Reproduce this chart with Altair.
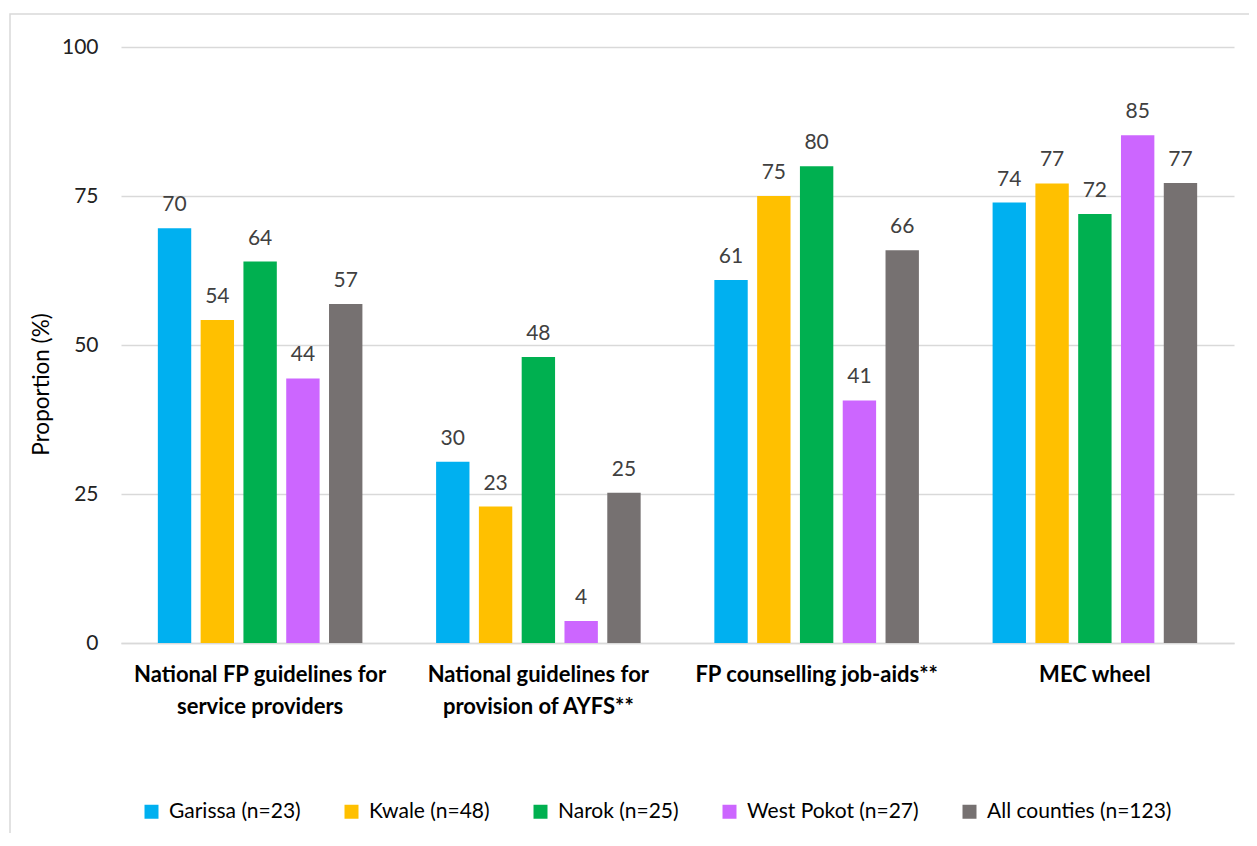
import altair as alt
import pandas as pd

categories = [
    "National FP guidelines for|service providers",
    "National guidelines for|provision of AYFS**",
    "FP counselling job-aids**",
    "MEC wheel",
]
counties = ["Garissa (n=23)", "Kwale (n=48)", "Narok (n=25)", "West Pokot (n=27)", "All counties (n=123)"]
colors = ["#00B0F0", "#FFC000", "#00B050", "#CC66FF", "#767171"]

garissa = [69.6, 30.4, 60.9, 73.9]
kwale = [54.2, 22.9, 75.0, 77.1]
narok = [64.0, 48.0, 80.0, 72.0]
west_pokot = [44.4, 3.7, 40.7, 85.2]
all_counties = [56.9, 25.2, 65.9, 77.2]

series = [garissa, kwale, narok, west_pokot, all_counties]
rows = []
for county, vals in zip(counties, series):
    for cat, v in zip(categories, vals):
        rows.append({"category": cat, "county": county, "value": v})
df = pd.DataFrame(rows)

FONT = "Lato"

base = alt.Chart(df).encode(
    x=alt.X(
        "category:N",
        sort=categories,
        scale=alt.Scale(paddingInner=0.231, paddingOuter=0.1155),
        axis=alt.Axis(
            title=None,
            labelExpr="split(datum.label, '|')",
            labelAngle=0,
            labelFont=FONT,
            labelFontSize=22,
            labelFontWeight="bold",
            labelColor="#000000",
            labelPadding=31,
            labelLineHeight=32,
            labelBaseline="middle",
            labelLimit=500,
            ticks=False,
            domainColor="#D9D9D9",
            domainWidth=1.5,
            grid=False,
        ),
    ),
    xOffset=alt.XOffset(
        "county:N", sort=counties, scale=alt.Scale(paddingInner=0.22, paddingOuter=0.11)
    ),
    y=alt.Y(
        "value:Q",
        scale=alt.Scale(domain=[0, 100]),
        axis=alt.Axis(
            values=[0, 25, 50, 75, 100],
            title="Proportion (%)",
            titleFont=FONT,
            titleFontSize=22.5,
            titleFontWeight="normal",
            titleColor="#000000",
            titleAngle=270,
            titleX=-80,
            titleY=337,
            titleAlign="center",
            titleBaseline="middle",
            labelFont=FONT,
            labelFontSize=21,
            labelColor="#222222",
            labelPadding=23,
            ticks=False,
            domain=False,
            grid=True,
            gridColor="#D9D9D9",
            gridWidth=1.5,
        ),
    ),
)

bars = base.mark_bar().encode(
    color=alt.Color(
        "county:N",
        sort=counties,
        scale=alt.Scale(domain=counties, range=colors),
        legend=alt.Legend(
            title=None,
            orient="none",
            legendX=20,
            legendY=754,
            direction="horizontal",
            columns=5,
            symbolType="square",
            symbolSize=196,
            symbolStrokeWidth=0,
            labelFont=FONT,
            labelFontSize=21,
            labelColor="#000000",
            labelLimit=400,
            columnPadding=40,
            labelOffset=7,
        ),
    )
)

labels = base.mark_text(
    baseline="alphabetic", dy=-17, font=FONT, fontSize=21, color="#404040"
).encode(text=alt.Text("value:Q", format=".0f"))

frame = alt.Chart(pd.DataFrame({"f": [0]})).mark_rect(
    fill=None, stroke="#D9D9D9", strokeWidth=1.5
).encode(
    x=alt.value(-111), x2=alt.value(1200), y=alt.value(-33), y2=alt.value(1000)
)

chart = (
    alt.layer(frame, bars, labels)
    .properties(
        width=1113,
        height=596,
        padding={"left": 113, "top": 39, "right": 15, "bottom": 190},
        autosize=alt.AutoSizeParams(type="none"),
    )
    .configure_view(stroke=None)
)

chart.save("out.html", embed_options={"renderer": "svg", "actions": False})
